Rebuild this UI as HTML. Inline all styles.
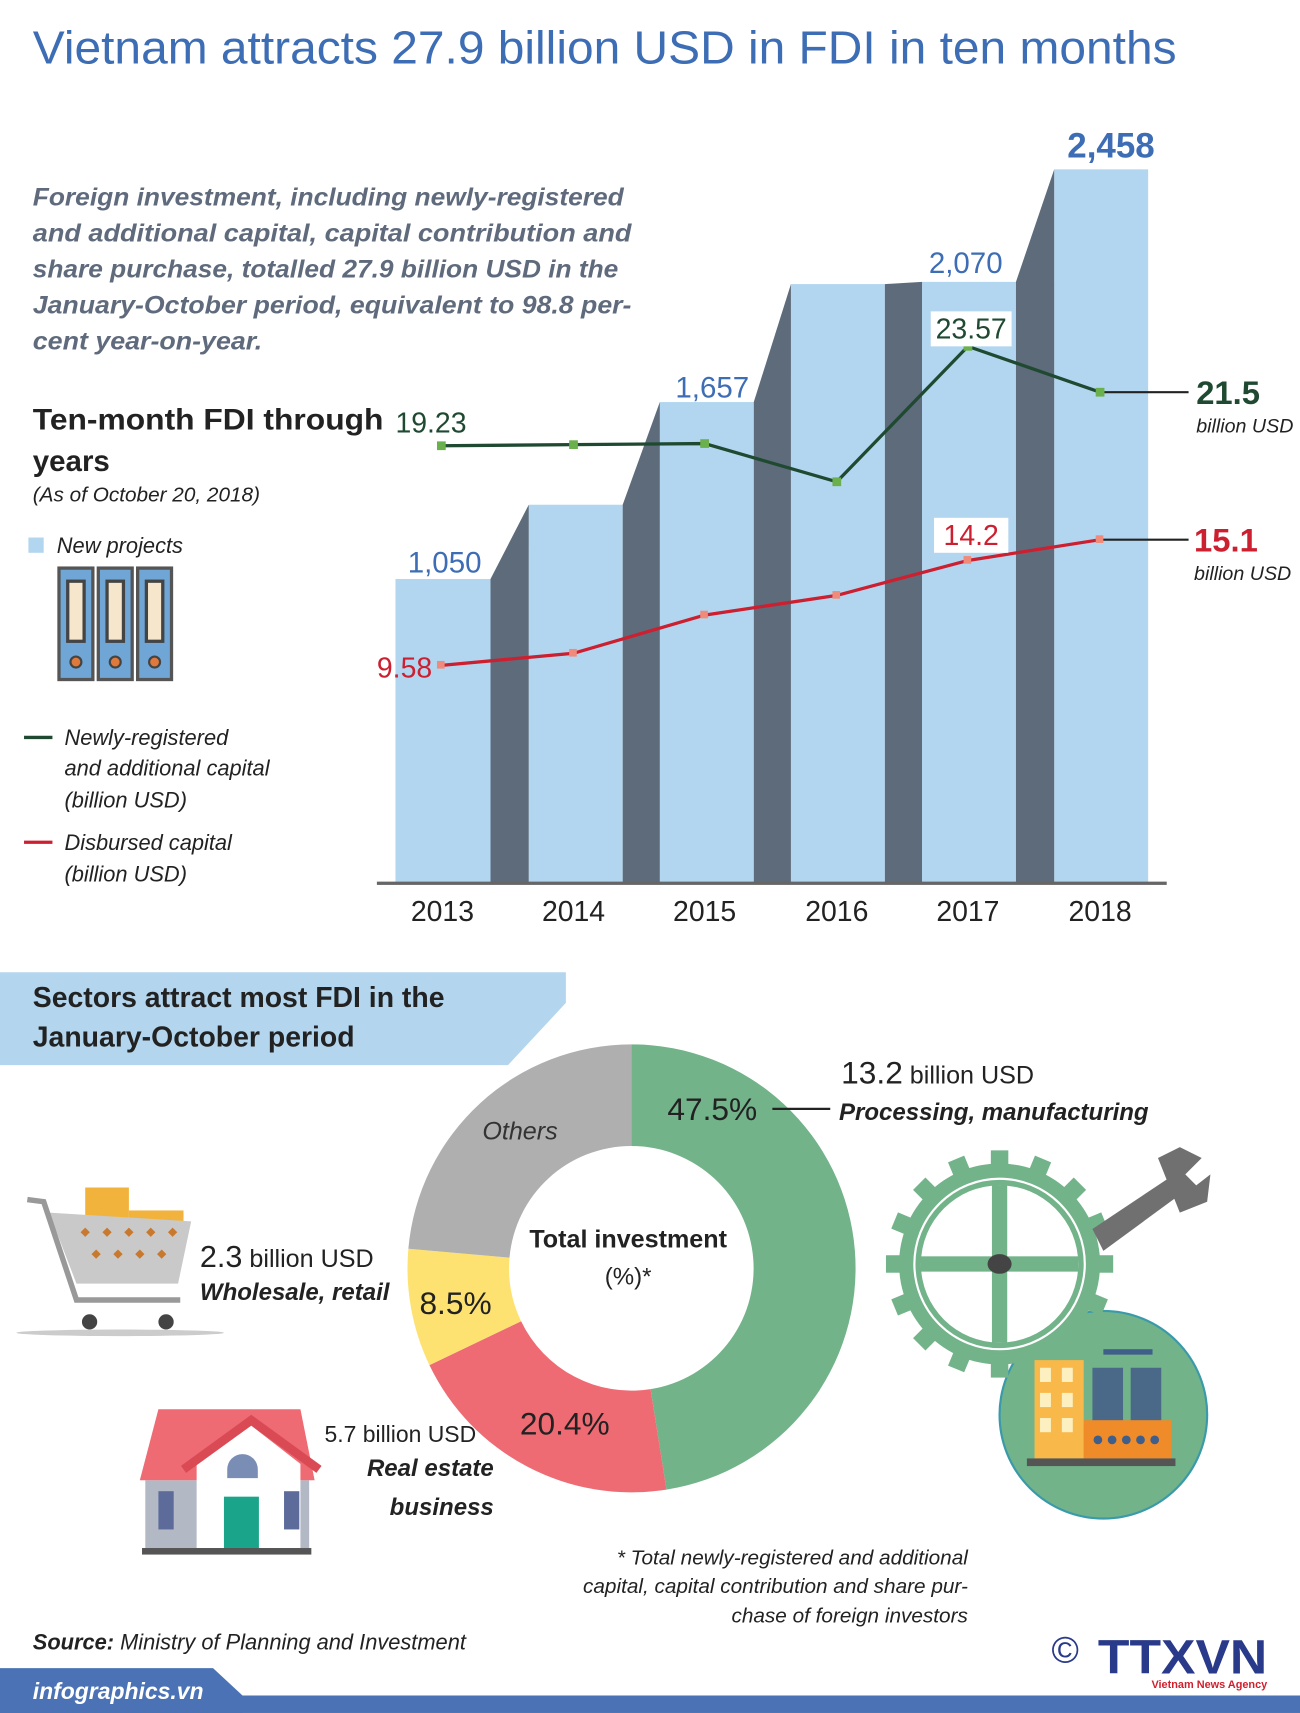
<!DOCTYPE html>
<html><head><meta charset="utf-8"><style>
html,body{margin:0;padding:0;background:#fff;}
svg{display:block;}
text{font-family:"Liberation Sans",sans-serif;}
</style></head><body>
<svg width="1300" height="1713" viewBox="0 0 1190 1568" xmlns="http://www.w3.org/2000/svg">
<rect width="1190" height="1568" fill="#fff"/>
<text x="30" y="58" font-size="42" fill="#3d6db4" textLength="1047" lengthAdjust="spacingAndGlyphs">Vietnam attracts 27.9 billion USD in FDI in ten months</text>

<g font-size="23" font-weight="bold" font-style="italic" fill="#5f6b7d">
<text x="30" y="188" textLength="541" lengthAdjust="spacingAndGlyphs">Foreign investment, including newly-registered</text>
<text x="30" y="221" textLength="548" lengthAdjust="spacingAndGlyphs">and additional capital, capital contribution and</text>
<text x="30" y="254" textLength="536" lengthAdjust="spacingAndGlyphs">share purchase, totalled 27.9 billion USD in the</text>
<text x="30" y="287" textLength="548" lengthAdjust="spacingAndGlyphs">January-October period, equivalent to 98.8 per-</text>
<text x="30" y="320" textLength="210" lengthAdjust="spacingAndGlyphs">cent year-on-year.</text>
</g>

<!-- bars -->
<g fill="#b3d6f0">
<rect x="362" y="530" width="87" height="279"/>
<rect x="484" y="462" width="86" height="347"/>
<rect x="604" y="368" width="86" height="441"/>
<rect x="724" y="260" width="86" height="549"/>
<rect x="844" y="258" width="86" height="551"/>
<rect x="965" y="155" width="86" height="654"/>
</g>
<g fill="#5d6b7b">
<polygon points="449,809 449,530 484,462 484,809"/>
<polygon points="570,809 570,462 604,368 604,809"/>
<polygon points="690,809 690,368 724,260 724,809"/>
<polygon points="810,809 810,260 844,258 844,809"/>
<polygon points="930,809 930,258 965,155 965,809"/>
</g>
<rect x="345" y="807" width="723" height="3" fill="#666"/>
<g font-size="27" fill="#3d6db4" text-anchor="middle">
<text x="407" y="524">1,050</text>
<text x="652" y="364">1,657</text>
<text x="884" y="250">2,070</text>
<text x="1017" y="144" font-size="32" font-weight="bold">2,458</text>
</g>
<g font-size="26" fill="#222" text-anchor="middle">
<text x="405" y="843">2013</text><text x="525" y="843">2014</text><text x="645" y="843">2015</text>
<text x="766" y="843">2016</text><text x="886" y="843">2017</text><text x="1007" y="843">2018</text>
</g>

<!-- green line -->
<polyline points="404,408 525,407 645,406 766,441 886,317 1007,359" fill="none" stroke="#1f4a31" stroke-width="3"/>
<line x1="1007" y1="359" x2="1088" y2="359" stroke="#222" stroke-width="2"/>
<g fill="#6ab04c"><rect x="400" y="404" width="8" height="8"/><rect x="521" y="403" width="8" height="8"/><rect x="641" y="402" width="8" height="8"/><rect x="762" y="437" width="8" height="8"/><rect x="882" y="313" width="8" height="8"/><rect x="1003" y="355" width="8" height="8"/></g>
<text x="362" y="396" font-size="26" fill="#1f4a31">19.23</text>
<rect x="852" y="285" width="74" height="32" fill="#fff"/>
<text x="889" y="310" font-size="26" fill="#1f4a31" text-anchor="middle">23.57</text>
<text x="1095" y="370" font-size="30" font-weight="bold" fill="#1f4a31">21.5</text>
<text x="1095" y="396" font-size="18" font-style="italic" fill="#222">billion USD</text>

<!-- red line -->
<polyline points="404,609 525,598 645,563 766,545 886,513 1007,494" fill="none" stroke="#cc1f2f" stroke-width="3"/>
<line x1="1007" y1="494" x2="1088" y2="494" stroke="#222" stroke-width="2"/>
<g fill="#f08a7a"><rect x="400" y="605" width="7" height="7"/><rect x="521" y="594" width="7" height="7"/><rect x="641" y="559" width="7" height="7"/><rect x="762" y="541" width="7" height="7"/><rect x="882" y="509" width="7" height="7"/><rect x="1003" y="490" width="7" height="7"/></g>
<text x="345" y="620" font-size="26" fill="#cc1f2f">9.58</text>
<rect x="855" y="474" width="68" height="32" fill="#fff"/>
<text x="889" y="499" font-size="26" fill="#cc1f2f" text-anchor="middle">14.2</text>
<text x="1093" y="505" font-size="30" font-weight="bold" fill="#cc1f2f">15.1</text>
<text x="1093" y="531" font-size="18" font-style="italic" fill="#222">billion USD</text>

<!-- left legend -->
<text x="30" y="393" font-size="27" font-weight="bold" fill="#222" textLength="321" lengthAdjust="spacingAndGlyphs">Ten-month FDI through</text>
<text x="30" y="431" font-size="27" font-weight="bold" fill="#222">years</text>
<text x="30" y="459" font-size="19" font-style="italic" fill="#222">(As of October 20, 2018)</text>
<rect x="26" y="492" width="14" height="14" fill="#b3d6f0"/>
<text x="52" y="506" font-size="20" font-style="italic" fill="#222">New projects</text>
<g>
<g transform="translate(54,520)"><rect width="31" height="102" fill="#6fa6d6" stroke="#555" stroke-width="3"/><rect x="8" y="12" width="15" height="55" fill="#f6e7cc" stroke="#444" stroke-width="3"/><circle cx="15.5" cy="86" r="5" fill="#e07a3c" stroke="#444" stroke-width="2"/></g>
<g transform="translate(90,520)"><rect width="31" height="102" fill="#6fa6d6" stroke="#555" stroke-width="3"/><rect x="8" y="12" width="15" height="55" fill="#f6e7cc" stroke="#444" stroke-width="3"/><circle cx="15.5" cy="86" r="5" fill="#e07a3c" stroke="#444" stroke-width="2"/></g>
<g transform="translate(126,520)"><rect width="31" height="102" fill="#6fa6d6" stroke="#555" stroke-width="3"/><rect x="8" y="12" width="15" height="55" fill="#f6e7cc" stroke="#444" stroke-width="3"/><circle cx="15.5" cy="86" r="5" fill="#e07a3c" stroke="#444" stroke-width="2"/></g>
</g>
<line x1="22" y1="675" x2="48" y2="675" stroke="#1f4a31" stroke-width="3"/>
<g font-size="20" font-style="italic" fill="#222">
<text x="59" y="682">Newly-registered</text><text x="59" y="710">and additional capital</text><text x="59" y="739">(billion USD)</text>
<text x="59" y="778">Disbursed capital</text><text x="59" y="807">(billion USD)</text>
</g>
<line x1="22" y1="771" x2="48" y2="771" stroke="#cc1f2f" stroke-width="3"/>

<!-- section 2 -->
<polygon points="0,890 518,890 518,918 465,975 0,975" fill="#b3d6ee"/>
<text x="30" y="922" font-size="26" font-weight="bold" fill="#222">Sectors attract most FDI in the</text>
<text x="30" y="958" font-size="26" font-weight="bold" fill="#222">January-October period</text>

<!-- donut -->
<path d="M578,956 A205,205 0 0 1 610.1,1363.5 L595.5,1271.6 A112,112 0 0 0 578,1049 Z" fill="#72b38a"/>
<path d="M610.1,1363.5 A205,205 0 0 1 393.1,1249.6 L477,1209.4 A112,112 0 0 0 595.5,1271.6 Z" fill="#ee6b73"/>
<path d="M393.1,1249.6 A205,205 0 0 1 373.8,1143.1 L466.4,1151.2 A112,112 0 0 0 477,1209.4 Z" fill="#fde272"/>
<path d="M373.8,1143.1 A205,205 0 0 1 578,956 L578,1049 A112,112 0 0 0 466.4,1151.2 Z" fill="#b0afb0"/>
<g font-size="29" fill="#222" text-anchor="middle">
<text x="652" y="1025">47.5%</text><text x="417" y="1203">8.5%</text><text x="517" y="1313">20.4%</text>
</g>
<text x="476" y="1043" font-size="23" font-style="italic" fill="#333" text-anchor="middle">Others</text>
<text x="575" y="1142" font-size="23" font-weight="bold" fill="#222" text-anchor="middle">Total investment</text>
<text x="575" y="1176" font-size="22" fill="#222" text-anchor="middle">(%)*</text>
<line x1="707" y1="1015" x2="760" y2="1015" stroke="#222" stroke-width="2"/>
<text x="770" y="992" fill="#222"><tspan font-size="29">13.2</tspan><tspan font-size="23"> billion USD</tspan></text>
<text x="768" y="1025" font-size="22" font-weight="bold" font-style="italic" fill="#222">Processing, manufacturing</text>

<!-- gear/factory -->
<circle cx="1010" cy="1295" r="95" fill="#72b38a" stroke="#3a9aaa" stroke-width="2"/>
<g transform="translate(915,1157)">
<g fill="#72b38a">
<circle r="92"/>
<g id="teeth"><rect x="-8" y="-104" width="16" height="22"/><rect x="-8" y="82" width="16" height="22"/><rect x="-104" y="-8" width="22" height="16"/><rect x="82" y="-8" width="22" height="16"/></g>
<use href="#teeth" transform="rotate(22.5)"/><use href="#teeth" transform="rotate(45)"/><use href="#teeth" transform="rotate(67.5)"/>
</g>
<circle r="78" fill="none" stroke="#fff" stroke-width="2"/>
<circle r="72" fill="#fff"/>
<rect x="-72" y="-7" width="144" height="14" fill="#72b38a"/>
<rect x="-7" y="-72" width="14" height="144" fill="#72b38a"/>
<ellipse rx="11" ry="9" fill="#444"/>
</g>
<g fill="#707070">
<polygon points="1000,1125 1075,1075 1085,1090 1010,1145"/>
<path d="M1060,1060 L1080,1050 L1100,1060 L1085,1075 L1095,1085 L1108,1075 L1105,1100 L1080,1110 Z"/>
</g>
<rect x="947" y="1245" width="45" height="90" fill="#f8b84a"/>
<g fill="#fdf0c0"><rect x="952" y="1252" width="10" height="13"/><rect x="972" y="1252" width="10" height="13"/><rect x="952" y="1275" width="10" height="13"/><rect x="972" y="1275" width="10" height="13"/><rect x="952" y="1298" width="10" height="13"/><rect x="972" y="1298" width="10" height="13"/></g>
<rect x="1000" y="1252" width="28" height="50" fill="#4a6888"/><rect x="1035" y="1252" width="28" height="50" fill="#4a6888"/>
<rect x="1010" y="1235" width="45" height="5" fill="#3f5f8a"/>
<rect x="992" y="1300" width="80" height="35" fill="#f08b2a"/>
<g fill="#3f5f8a"><circle cx="1005" cy="1318" r="4"/><circle cx="1018" cy="1318" r="4"/><circle cx="1031" cy="1318" r="4"/><circle cx="1044" cy="1318" r="4"/><circle cx="1057" cy="1318" r="4"/></g>
<rect x="940" y="1335" width="136" height="7" fill="#555"/>

<!-- cart -->
<ellipse cx="110" cy="1220" rx="95" ry="3" fill="#ccc"/>
<rect x="78" y="1087" width="40" height="30" fill="#f2b33d"/>
<rect x="118" y="1108" width="50" height="12" fill="#f2b33d"/>
<polygon points="45,1110 175,1118 163,1175 70,1175" fill="#c9c9c9"/>
<g fill="#c8792d"><rect x="75" y="1125" width="6" height="6" transform="rotate(45 78 1128)"/><rect x="95" y="1125" width="6" height="6" transform="rotate(45 98 1128)"/><rect x="115" y="1125" width="6" height="6" transform="rotate(45 118 1128)"/><rect x="135" y="1125" width="6" height="6" transform="rotate(45 138 1128)"/><rect x="155" y="1125" width="6" height="6" transform="rotate(45 158 1128)"/><rect x="85" y="1145" width="6" height="6" transform="rotate(45 88 1148)"/><rect x="105" y="1145" width="6" height="6" transform="rotate(45 108 1148)"/><rect x="125" y="1145" width="6" height="6" transform="rotate(45 128 1148)"/><rect x="145" y="1145" width="6" height="6" transform="rotate(45 148 1148)"/></g>
<polyline points="25,1098 40,1100 70,1190 165,1190" fill="none" stroke="#999" stroke-width="5"/>
<circle cx="82" cy="1210" r="7" fill="#444"/><circle cx="152" cy="1210" r="7" fill="#444"/>
<text x="183" y="1160" fill="#222"><tspan font-size="28">2.3</tspan><tspan font-size="23"> billion USD</tspan></text>
<text x="183" y="1190" font-size="22" font-weight="bold" font-style="italic" fill="#222">Wholesale, retail</text>

<!-- house -->
<rect x="133" y="1355" width="150" height="62" fill="#b3b8c5"/>
<polygon points="145,1290 275,1290 288,1355 128,1355" fill="#ee6b73"/>
<polygon points="180,1340 230,1305 275,1340 275,1420 180,1420" fill="#fff"/>
<polyline points="168,1345 230,1300 292,1345" fill="none" stroke="#d94a55" stroke-width="8"/>
<rect x="205" y="1370" width="32" height="52" fill="#1aa58a"/>
<path d="M208,1345 a14,14 0 0 1 28,0 v8 h-28z" fill="#7a8eb5"/>
<rect x="145" y="1365" width="14" height="35" fill="#5d6b9b"/><rect x="260" y="1365" width="14" height="35" fill="#5d6b9b"/>
<rect x="130" y="1417" width="155" height="6" fill="#555"/>
<text x="297" y="1320" font-size="21" fill="#222">5.7 billion USD</text>
<text x="452" y="1351" font-size="22" font-weight="bold" font-style="italic" fill="#222" text-anchor="end">Real estate</text>
<text x="452" y="1387" font-size="22" font-weight="bold" font-style="italic" fill="#222" text-anchor="end">business</text>

<g font-size="19" font-style="italic" fill="#222" text-anchor="end">
<text x="886" y="1432">* Total newly-registered and additional</text>
<text x="886" y="1458">capital, capital contribution and share pur-</text>
<text x="886" y="1485">chase of foreign investors</text>
</g>
<text x="30" y="1510" font-size="20" font-style="italic" fill="#222"><tspan font-weight="bold">Source:</tspan> Ministry of Planning and Investment</text>

<text x="975" y="1522" font-size="34" fill="#2a3a8a" text-anchor="middle">©</text>
<text x="1005" y="1532" font-size="44" font-weight="bold" fill="#2a3a8a" textLength="155" lengthAdjust="spacingAndGlyphs">TTXVN</text>
<text x="1160" y="1545" font-size="10" font-weight="bold" fill="#d0202e" text-anchor="end">Vietnam News Agency</text>

<rect x="0" y="1552" width="1190" height="16" fill="#4a72b4"/>
<polygon points="0,1527 195,1527 222,1552 222,1568 0,1568" fill="#4a72b4"/>
<text x="30" y="1555" font-size="21" font-weight="bold" font-style="italic" fill="#fff">infographics.vn</text>
</svg>
</body></html>
